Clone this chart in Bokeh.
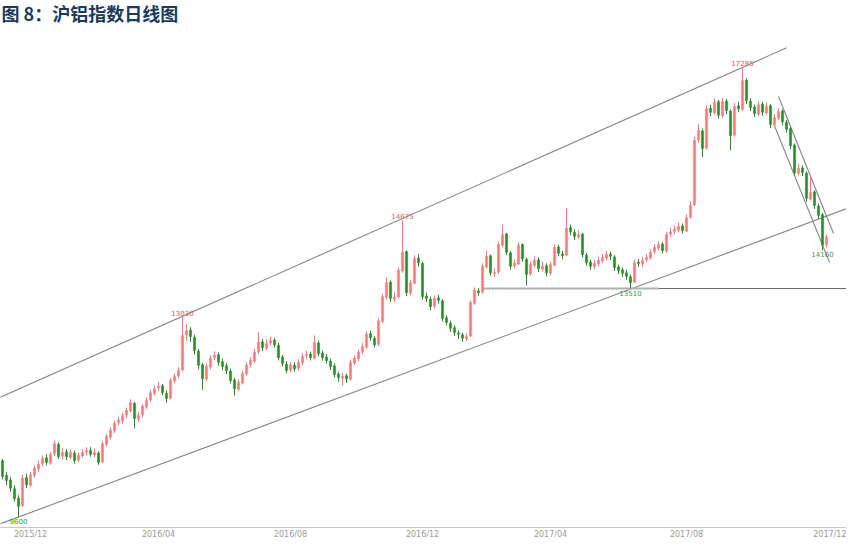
from bokeh.plotting import figure
from bokeh.models import Range1d, FixedTicker, LinearAxis, ColumnDataSource
from bokeh.embed import file_html
from bokeh.resources import INLINE
from bokeh.core.properties import value

# ---------------- data ----------------
title_text = "图 8：沪铝指数日线图"

opens = [10570, 10320, 10240, 10090, 9930, 9800, 10280, 10150, 10320, 10430,
         10520, 10620, 10530, 10690, 10850, 10650, 10720, 10630, 10700, 10580,
         10650, 10720, 10750, 10670, 10700, 10550, 10850, 10970, 11080, 11220,
         11250, 11350, 11420, 11550, 11280, 11350, 11490, 11610, 11720, 11810,
         11850, 11720, 11640, 11930, 12020, 12120, 12720, 12800, 12680, 12440,
         12210, 11960, 12170, 12330, 12380, 12260, 12190, 12100, 11950, 11790,
         11900, 12050, 12210, 12270, 12430, 12600, 12490, 12580, 12630, 12540,
         12340, 12220, 12120, 12200, 12150, 12240, 12360, 12390, 12320, 12580,
         12410, 12340, 12270, 12190, 12050, 11980, 12020, 11960, 12240, 12310,
         12430, 12510, 12740, 12660, 12560, 12950, 13360, 13620, 13330, 13370,
         13810, 14140, 13430, 13600, 14030, 13940, 13380, 13330, 13210, 13350,
         13300, 13010, 12920, 12840, 12750, 12720, 12650, 12700, 13260, 13470,
         13450, 13880, 14070, 13770, 13790, 14250, 14440, 14120, 13900, 13930,
         14260, 14010, 13760, 13910, 14000, 13840, 13900, 13770, 13910, 14220,
         14100, 14080, 14550, 14470, 14390, 14440, 14080, 13960, 13880, 13930,
         13980, 14030, 14100, 14050, 13880, 13830, 13780, 13710, 13620, 13960,
         13930, 14000, 14030, 14140, 14200, 14270, 14150, 14440, 14490, 14510,
         14580, 14490, 14730, 14940, 16050, 16200, 15910, 16590, 16510, 16700,
         16460, 16710, 16540, 16130, 16630, 16570, 17070, 16710, 16610, 16490,
         16660, 16510, 16630, 16300, 16420, 16540, 16350, 16240, 15960, 15480,
         15570, 15480, 15040, 15160, 14920, 14770, 14260]

closes = [10300, 10230, 10100, 9920, 9790, 10270, 10160, 10330, 10440, 10510,
          10610, 10540, 10680, 10860, 10640, 10710, 10640, 10710, 10570, 10660,
          10710, 10740, 10680, 10710, 10540, 10860, 10980, 11090, 11210, 11260,
          11340, 11430, 11560, 11290, 11340, 11500, 11600, 11730, 11800, 11840,
          11730, 11630, 11940, 12010, 12110, 12710, 12790, 12690, 12450, 12200,
          11970, 12180, 12320, 12370, 12250, 12180, 12110, 11940, 11800, 11910,
          12060, 12200, 12280, 12420, 12590, 12500, 12570, 12620, 12550, 12330,
          12230, 12110, 12210, 12140, 12250, 12350, 12380, 12330, 12590, 12400,
          12330, 12280, 12180, 12040, 11990, 12010, 11970, 12250, 12320, 12420,
          12520, 12730, 12670, 12550, 12960, 13370, 13610, 13340, 13360, 13820,
          14130, 13440, 13610, 14020, 13950, 13370, 13340, 13200, 13340, 13310,
          13000, 12930, 12830, 12760, 12730, 12660, 12690, 13270, 13480, 13440,
          13890, 14060, 13780, 13780, 14260, 14430, 14130, 13890, 13940, 14250,
          14020, 13750, 13920, 13990, 13850, 13890, 13780, 13920, 14210, 14110,
          14070, 14540, 14480, 14400, 14430, 14090, 13950, 13890, 13940, 13990,
          14040, 14090, 14060, 13870, 13820, 13770, 13720, 13610, 13950, 13940,
          13990, 14040, 14130, 14210, 14260, 14160, 14430, 14480, 14520, 14570,
          14500, 14720, 14930, 16040, 16210, 15900, 16580, 16520, 16690, 16470,
          16700, 16550, 16120, 16620, 16580, 17060, 16720, 16600, 16500, 16650,
          16520, 16620, 16310, 16430, 16530, 16360, 16230, 15950, 15490, 15560,
          15490, 15050, 15150, 14930, 14760, 14250, 14390]

highs = [10600, 10380, 10290, 10150, 9980, 10330, 10350, 10380, 10490, 10570,
         10660, 10680, 10720, 10910, 10880, 10780, 10770, 10760, 10740, 10710,
         10770, 10800, 10800, 10780, 10730, 10900, 11030, 11140, 11260, 11320,
         11390, 11480, 11620, 11570, 11400, 11540, 11650, 11780, 11860, 11920,
         11880, 11770, 11980, 12060, 12170, 13030, 12900, 12850, 12720, 12480,
         12240, 12230, 12370, 12440, 12420, 12310, 12240, 12140, 11990, 11960,
         12110, 12250, 12340, 12480, 12770, 12650, 12640, 12690, 12670, 12580,
         12380, 12270, 12260, 12250, 12300, 12400, 12450, 12430, 12710, 12620,
         12450, 12390, 12310, 12230, 12090, 12070, 12060, 12290, 12370, 12470,
         12580, 12780, 12790, 12700, 13000, 13420, 13700, 13650, 13450, 13870,
         14675, 14160, 13660, 14080, 14100, 13970, 13440, 13370, 13390, 13400,
         13330, 13050, 12960, 12880, 12800, 12760, 12750, 13310, 13530, 13520,
         13940, 14160, 14090, 13850, 14310, 14600, 14460, 14150, 14010, 14300,
         14280, 14040, 13970, 14060, 14040, 13960, 13940, 13970, 14260, 14260,
         14150, 14880, 14600, 14520, 14500, 14460, 14120, 14000, 14000, 14050,
         14100, 14150, 14140, 14080, 13920, 13870, 13830, 13750, 14000, 14010,
         14050, 14100, 14180, 14270, 14320, 14300, 14480, 14550, 14590, 14640,
         14620, 14770, 15000, 16100, 16320, 16240, 16640, 16650, 16760, 16730,
         16770, 16750, 16570, 16680, 16700, 17285, 17100, 16760, 16650, 16710,
         16700, 16690, 16660, 16490, 16590, 16570, 16390, 16270, 15990, 15640,
         15610, 15510, 15400, 15190, 14960, 14800, 14430]

lows = [10250, 10150, 10040, 9870, 9600, 9780, 10100, 10120, 10280, 10380,
        10470, 10490, 10500, 10650, 10600, 10590, 10580, 10600, 10520, 10540,
        10620, 10660, 10640, 10630, 10500, 10530, 10810, 10930, 11040, 11170,
        11200, 11300, 11390, 11120, 11230, 11310, 11450, 11570, 11680, 11760,
        11690, 11560, 11620, 11890, 11980, 12100, 12620, 12600, 12380, 12130,
        11780, 11930, 12130, 12290, 12190, 12120, 12050, 11890, 11680, 11760,
        11870, 12020, 12160, 12240, 12390, 12440, 12450, 12540, 12500, 12280,
        12180, 12060, 12080, 12090, 12110, 12200, 12310, 12280, 12300, 12350,
        12280, 12230, 12120, 11990, 11920, 11850, 11900, 11940, 12200, 12270,
        12390, 12480, 12620, 12500, 12530, 12920, 13320, 13280, 13280, 13340,
        13780, 13380, 13390, 13580, 13880, 13320, 13280, 13140, 13170, 13250,
        12950, 12880, 12770, 12700, 12650, 12600, 12610, 12680, 13230, 13390,
        13420, 13850, 13730, 13710, 13760, 14210, 14080, 13830, 13850, 13910,
        13970, 13560, 13730, 13870, 13790, 13800, 13720, 13740, 13890, 14060,
        14010, 14060, 14420, 14340, 14350, 14040, 13900, 13830, 13840, 13890,
        13940, 13990, 14000, 13810, 13760, 13710, 13660, 13510, 13600, 13880,
        13880, 13960, 14000, 14100, 14160, 14110, 14120, 14390, 14440, 14470,
        14450, 14470, 14700, 14920, 16000, 15750, 15880, 16450, 16480, 16410,
        16430, 16490, 15870, 16100, 16520, 16540, 16660, 16540, 16440, 16460,
        16460, 16480, 16250, 16270, 16390, 16300, 16170, 15890, 15430, 15440,
        15430, 14990, 15010, 14870, 14700, 14160, 14210]

tick_pos = [7, 39, 72, 105, 137, 171, 207]
tick_labels = ["2015/12", "2016/04", "2016/08", "2016/12", "2017/04", "2017/08", "2017/12"]

mark_idx = [4, 45, 100, 157, 185, 205]
mark_val = [9600, 13030, 14675, 13510, 17285, 14160]
mark_kind = ["low", "high", "high", "low", "high", "low"]

# trend lines (bar index, price)
upper_ch_x = [-1, 196]
upper_ch_y = [11640, 17620]
lower_ch_x = [-1, 212]
lower_ch_y = [9480, 14900]
support_a_x = [120, 164]
support_b_x = [164, 212]
support_y = 13510
down_up_x = [194, 207.75]
down_up_y = [16790, 14450]
down_lo_x = [193, 206.75]
down_lo_y = [16290, 13955]

# ---------------- styling ----------------
UP = "#F27C7C"
DOWN = "#2A8A2A"
LINE = "#858585"

X_LO, X_HI = -0.5, 211
Y_LO, Y_HI = 9429, 18429

n = len(closes)
idx = list(range(n))
colors = [UP if c >= o else DOWN for o, c in zip(opens, closes)]
body_top = [max(o, c) for o, c in zip(opens, closes)]
body_bot = [min(o, c) for o, c in zip(opens, closes)]
src = ColumnDataSource(dict(x=idx, h=highs, l=lows, t=body_top, b=body_bot, color=colors))

p = figure(width=846, height=541, output_backend="svg", toolbar_location=None,
           x_range=Range1d(X_LO, X_HI), y_range=Range1d(Y_LO, Y_HI),
           y_axis_location=None, min_border_left=0, min_border_right=0,
           min_border_top=0, min_border_bottom=0)
p.xgrid.visible = False
p.ygrid.visible = False
p.outline_line_color = None
p.background_fill_color = "white"

# title, drawn as text in the top-left corner of the plot area
p.text(x=[X_LO + 0.25], y=[Y_HI - 213], text=[title_text], text_align="left",
       text_baseline="middle", text_font=value("Noto Sans CJK SC"),
       text_font_style="bold", text_font_size="18px", text_color="#1B3A5C")

# trend lines
p.line(upper_ch_x, upper_ch_y, line_color=LINE, line_width=1.1)
p.line(lower_ch_x, lower_ch_y, line_color=LINE, line_width=1.1)
p.line(support_a_x, [support_y, support_y], line_color="#b0b0b0", line_width=2)
p.line(support_b_x, [support_y, support_y], line_color="#666666", line_width=1)
p.line(down_up_x, down_up_y, line_color=LINE, line_width=1.1)
p.line(down_lo_x, down_lo_y, line_color=LINE, line_width=1.1)

# candles
p.segment(x0="x", y0="h", x1="x", y1="l", line_color="color", line_width=1, source=src)
p.vbar(x="x", width=0.55, top="t", bottom="b", fill_color="color", line_color="color",
       line_width=0.5, source=src)

# extreme labels
hi_x = [i for i, k in zip(mark_idx, mark_kind) if k == "high"]
hi_y = [v for v, k in zip(mark_val, mark_kind) if k == "high"]
lo_x = [i for i, k in zip(mark_idx, mark_kind) if k == "low"]
lo_y = [v for v, k in zip(mark_val, mark_kind) if k == "low"]
p.text(x=hi_x, y=hi_y, text=[str(v) for v in hi_y], text_align="center",
       text_baseline="bottom", y_offset=-1, text_font=value("DejaVu Sans"),
       text_font_size="7px", text_color="#E0585A")
p.text(x=lo_x, y=lo_y, text=[str(v) for v in lo_y], text_align="center",
       text_baseline="top", y_offset=1, text_font=value("DejaVu Sans"),
       text_font_size="7px", text_color="#3A9A3A")

# x axis
ax = p.xaxis[0]
ax.ticker = FixedTicker(ticks=tick_pos)
ax.major_label_overrides = {t: lab for t, lab in zip(tick_pos, tick_labels)}
ax.axis_line_color = "#c8c8c8"
ax.major_tick_line_color = None
ax.minor_tick_line_color = None
ax.major_tick_out = 0
ax.major_tick_in = 0
ax.minor_tick_out = 0
ax.minor_tick_in = 0
ax.major_label_text_font_size = "8px"
ax.major_label_text_font = "DejaVu Sans"
ax.major_label_text_color = "#9a9a9a"
ax.major_label_standoff = 2

ax2 = LinearAxis(ticker=FixedTicker(ticks=[]), axis_line_color="#c8c8c8",
                 major_tick_line_color=None, minor_tick_line_color=None,
                 major_tick_out=0, major_tick_in=0, minor_tick_out=0, minor_tick_in=0,
                 major_label_standoff=0, major_label_text_font_size="0px")
p.add_layout(ax2, "below")

open("out.html", "w").write(file_html(p, INLINE))
